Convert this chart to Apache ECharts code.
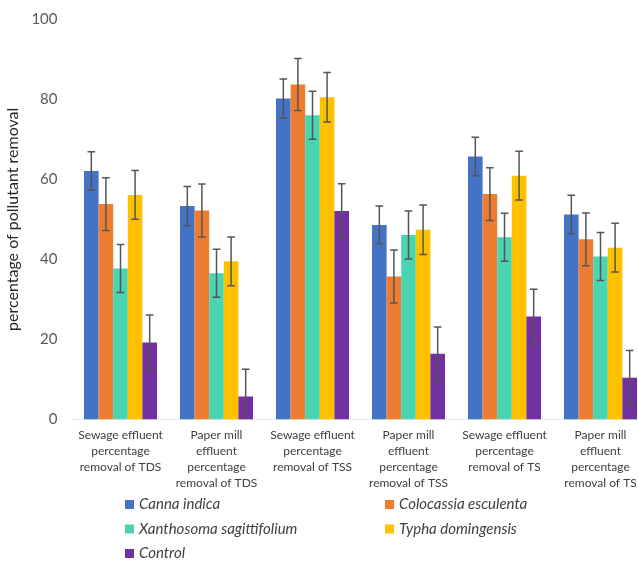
<!DOCTYPE html>
<html>
<head>
<meta charset="utf-8">
<script src="https://cdn.jsdelivr.net/npm/echarts@6/dist/echarts.min.js"></script>
<style>
  html, body { margin: 0; padding: 0; background: #ffffff; }
  #chart { width: 638px; height: 561px; }
</style>
</head>
<body>
<div id="chart"></div>
<script>
// Treatment categories (x axis)
var categories = [
  'Sewage effluent\npercentage\nremoval of TDS',
  'Paper mill\neffluent\npercentage\nremoval of TDS',
  'Sewage effluent\npercentage\nremoval of TSS',
  'Paper mill\neffluent\npercentage\nremoval of TSS',
  'Sewage effluent\npercentage\nremoval of TS',
  'Paper mill\neffluent\npercentage\nremoval of TS'
];

// Mean percentage removal for each plant / control
var cannaIndica = [62.1, 53.3, 80.2, 48.6, 65.7, 51.2];
var colocassiaEsculenta = [53.8, 52.2, 83.7, 35.7, 56.3, 45.0];
var xanthosomaSagittifolium = [37.7, 36.5, 76.0, 46.1, 45.5, 40.7];
var typhaDomingensis = [56.1, 39.5, 80.5, 47.4, 60.9, 42.9];
var control = [19.2, 5.7, 52.1, 16.4, 25.7, 10.4];

// Error bar half-widths (±)
var cannaIndicaErr = [4.8, 4.9, 4.9, 4.7, 4.8, 4.8];
var colocassiaEsculentaErr = [6.6, 6.6, 6.5, 6.6, 6.6, 6.6];
var xanthosomaSagittifoliumErr = [6.0, 6.0, 6.0, 6.0, 6.0, 6.0];
var typhaDomingensisErr = [6.1, 6.1, 6.2, 6.2, 6.1, 6.1];
var controlErr = [6.9, 6.8, 6.8, 6.7, 6.8, 6.8];

// Y axis ticks
var yMin = 0, yMax = 100, yStep = 20;

var seriesNames = ['Canna indica', 'Colocassia esculenta', 'Xanthosoma sagittifolium', 'Typha domingensis', 'Control'];
var seriesValues = [cannaIndica, colocassiaEsculenta, xanthosomaSagittifolium, typhaDomingensis, control];
var seriesErrors = [cannaIndicaErr, colocassiaEsculentaErr, xanthosomaSagittifoliumErr, typhaDomingensisErr, controlErr];
var colors = ['#4472C4', '#ED7D31', '#4BD4B1', '#FFC000', '#7030A0'];

var categoryGapRatio = 0.24;
var nSeries = seriesNames.length;

function errorRenderer(k) {
  return function (params, api) {
    var idx = api.value(0);
    var low = api.coord([idx, api.value(1)]);
    var high = api.coord([idx, api.value(2)]);
    var band = api.size([1, 0])[0];
    var barW = band * (1 - categoryGapRatio) / nSeries;
    var dx = (k - (nSeries - 1) / 2) * barW;
    var x = low[0] + dx;
    var cap = 3.8;
    var style = { stroke: '#555555', lineWidth: 1.5 };
    return {
      type: 'group',
      children: [
        { type: 'line', shape: { x1: x, y1: high[1], x2: x, y2: low[1] }, style: style },
        { type: 'line', shape: { x1: x - cap, y1: high[1], x2: x + cap, y2: high[1] }, style: style },
        { type: 'line', shape: { x1: x - cap, y1: low[1], x2: x + cap, y2: low[1] }, style: style }
      ]
    };
  };
}

var series = [];
seriesNames.forEach(function (name, k) {
  series.push({
    name: name,
    type: 'bar',
    data: seriesValues[k],
    barGap: '0%',
    barCategoryGap: (categoryGapRatio * 100) + '%',
    itemStyle: { color: colors[k] },
    emphasis: { disabled: true }
  });
});
seriesNames.forEach(function (name, k) {
  series.push({
    name: name + ' error',
    type: 'custom',
    renderItem: errorRenderer(k),
    clip: true,
    encode: { x: 0, y: [1, 2] },
    data: seriesValues[k].map(function (v, i) {
      return [i, v - seriesErrors[k][i], v + seriesErrors[k][i]];
    }),
    z: 10,
    silent: true
  });
});

var legendText = { fontFamily: 'Lato', fontStyle: 'italic', fontSize: 15, color: '#404040' };

var chart = echarts.init(document.getElementById('chart'), null, { renderer: 'canvas' });
chart.setOption({
  animation: false,
  backgroundColor: '#ffffff',
  grid: { left: 72.5, top: 19.3, width: 576, height: 400, containLabel: false, outerBoundsMode: 'none' },
  legend: [
    {
      data: ['Canna indica', 'Xanthosoma sagittifolium', 'Control'],
      orient: 'vertical', left: 125, top: 497,
      itemWidth: 9, itemHeight: 9, itemGap: 9.5, icon: 'rect',
      textStyle: legendText, padding: [0, 0, 0, 0]
    },
    {
      data: ['Colocassia esculenta', 'Typha domingensis'],
      orient: 'vertical', left: 385, top: 497,
      itemWidth: 9, itemHeight: 9, itemGap: 9.5, icon: 'rect',
      textStyle: legendText, padding: [0, 0, 0, 0]
    }
  ],
  xAxis: {
    type: 'category',
    data: categories,
    axisLine: { show: true, lineStyle: { color: '#e8e8e8', width: 1 } },
    axisTick: { show: false },
    axisLabel: {
      interval: 0, margin: 8, fontFamily: 'Lato', fontSize: 12,
      lineHeight: 16, color: '#404040', align: 'center'
    }
  },
  yAxis: {
    type: 'value',
    min: yMin, max: yMax, interval: yStep,
    name: 'percentage of pollutant removal',
    nameLocation: 'middle',
    nameGap: 45,
    nameTextStyle: { fontFamily: 'Lato', fontSize: 16, color: '#262626' },
    axisLine: { show: false },
    axisTick: { show: false },
    splitLine: { show: false },
    axisLabel: { margin: 15, fontFamily: 'Lato', fontSize: 15, color: '#595959' }
  },
  series: series
});
</script>
</body>
</html>
